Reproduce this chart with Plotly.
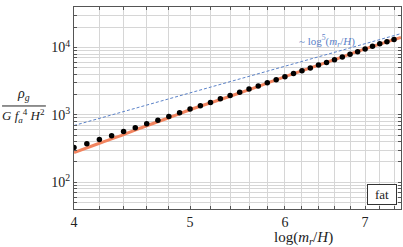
import math
import plotly.graph_objects as go

# Data
x_pts = [4.0, 4.1, 4.2, 4.3, 4.4, 4.5, 4.6, 4.7, 4.8, 4.9, 5.0, 5.1, 5.2, 5.3, 5.4, 5.5, 5.6,
         5.7, 5.8, 5.9, 6.0, 6.1, 6.2, 6.3, 6.4, 6.5, 6.6, 6.7, 6.8, 6.9, 7.0, 7.1, 7.2, 7.3, 7.4]
y_pts = [327, 372, 431, 489, 566, 643, 738, 832, 944, 1075, 1220, 1365, 1530, 1738, 1946, 2160, 2421,
         2684, 3006, 3328, 3690, 4132, 4530, 4970, 5510, 6020, 6600, 7245, 7920, 8690, 9530, 10420, 11430, 12240, 13130]

x_fit = [4.0, 4.2, 4.4, 4.6, 4.8, 5.0, 5.5, 6.0, 6.5, 7.0, 7.5]
y_fit = [275, 379, 510, 689, 906, 1191, 2110, 3690, 6020, 9530, 14100]

x_pow = [4.0, 7.5]
y_pow = [695, 16100]

x_gridvals = [4.0, 4.2, 4.4, 4.6, 4.8, 5.0, 5.2, 5.4, 5.6, 5.8, 6.0, 6.2, 6.4, 6.6, 6.8, 7.0, 7.2, 7.4]
x_ticklabels = {4.0: "4", 5.0: "5", 6.0: "6", 7.0: "7"}
y_decades = [100, 1000, 10000]
y_decade_labels = ["10<sup>2</sup>", "10<sup>3</sup>", "10<sup>4</sup>"]

SERIF = "Liberation Serif"
RED = "#f2845f"
BLUE = "#5b82c8"
AX = "#555555"
GRID = "#d6d6d6"

y_gridvals = []
y_ticktext = []
for dec in [10, 100, 1000, 10000]:
    for m in range(1, 10):
        v = m * dec
        if 40 <= v <= 40000:
            y_gridvals.append(v)
            if v in y_decades:
                y_ticktext.append(y_decade_labels[y_decades.index(v)])
            else:
                y_ticktext.append("")

fig = go.Figure()
fig.add_trace(go.Scatter(x=x_pow, y=y_pow, mode="lines",
                         line=dict(color=BLUE, width=1, dash="3px,2px"), showlegend=False))
fig.add_trace(go.Scatter(x=x_fit, y=y_fit, mode="lines",
                         line=dict(color=RED, width=3), line_shape="spline", showlegend=False))
fig.add_trace(go.Scatter(x=x_pts, y=y_pts, mode="markers",
                         marker=dict(color="black", size=5.5), showlegend=False))

fig.update_xaxes(type="log", range=[math.log10(4), math.log10(7.5)],
                 tickvals=x_gridvals,
                 ticktext=[x_ticklabels.get(v, "") for v in x_gridvals],
                 ticks="inside", ticklen=3, tickcolor=AX, tickwidth=1,
                 showline=True, linecolor=AX, linewidth=1.2, mirror="ticks",
                 showgrid=True, gridcolor=GRID, gridwidth=1, zeroline=False,
                 tickfont=dict(family=SERIF, size=14, color="#222"))
fig.update_yaxes(type="log", range=[math.log10(40), math.log10(40000)],
                 tickvals=y_gridvals, ticktext=y_ticktext,
                 ticks="inside", ticklen=3, tickcolor=AX, tickwidth=1,
                 showline=True, linecolor=AX, linewidth=1.2, mirror="ticks",
                 showgrid=True, gridcolor=GRID, gridwidth=1, zeroline=False,
                 tickfont=dict(family=SERIF, size=14, color="#222"))

ann = []
ann.append(dict(x=0.703, y=-0.145, xref="paper", yref="paper",
                text="log(<i>m<sub>r</sub></i>/<i>H</i>)", showarrow=False,
                font=dict(family=SERIF, size=15, color="#222"), xanchor="center", yanchor="middle"))
ann.append(dict(x=-0.153, y=0.567, xref="paper", yref="paper",
                text="<i>ρ<sub>g</sub></i>", showarrow=False,
                font=dict(family=SERIF, size=14, color="#222"), xanchor="center", yanchor="middle"))
ann.append(dict(x=-0.155, y=0.462, xref="paper", yref="paper",
                text="<i>G f</i><sub><i>a</i></sub><sup>4</sup> <i>H</i><sup>2</sup>", showarrow=False,
                font=dict(family=SERIF, size=13, color="#222"), xanchor="center", yanchor="middle"))
ann.append(dict(x=0.775, y=0.83, xref="paper", yref="paper",
                text="~ log<sup>5</sup>(<i>m<sub>r</sub></i>/<i>H</i>)", showarrow=False,
                font=dict(family=SERIF, size=11, color=BLUE), xanchor="center", yanchor="middle"))
ann.append(dict(x=0.941, y=0.074, xref="paper", yref="paper",
                text="fat", showarrow=False, bgcolor="white", bordercolor="#333", borderwidth=1,
                borderpad=2, width=24,
                font=dict(family=SERIF, size=13, color="#222"), xanchor="center", yanchor="middle"))

fig.update_layout(
    width=403, height=247,
    margin=dict(l=74, r=2, t=7, b=38),
    paper_bgcolor="white", plot_bgcolor="white",
    annotations=ann,
    shapes=[dict(type="line", xref="paper", yref="paper", x0=-0.220, x1=-0.086, y0=0.51, y1=0.51,
                 line=dict(color="#222", width=1))],
)

fig.write_html("out.html", config={"displayModeBar": False},
               post_script="document.body.style.margin='0';document.body.style.overflow='hidden';")
